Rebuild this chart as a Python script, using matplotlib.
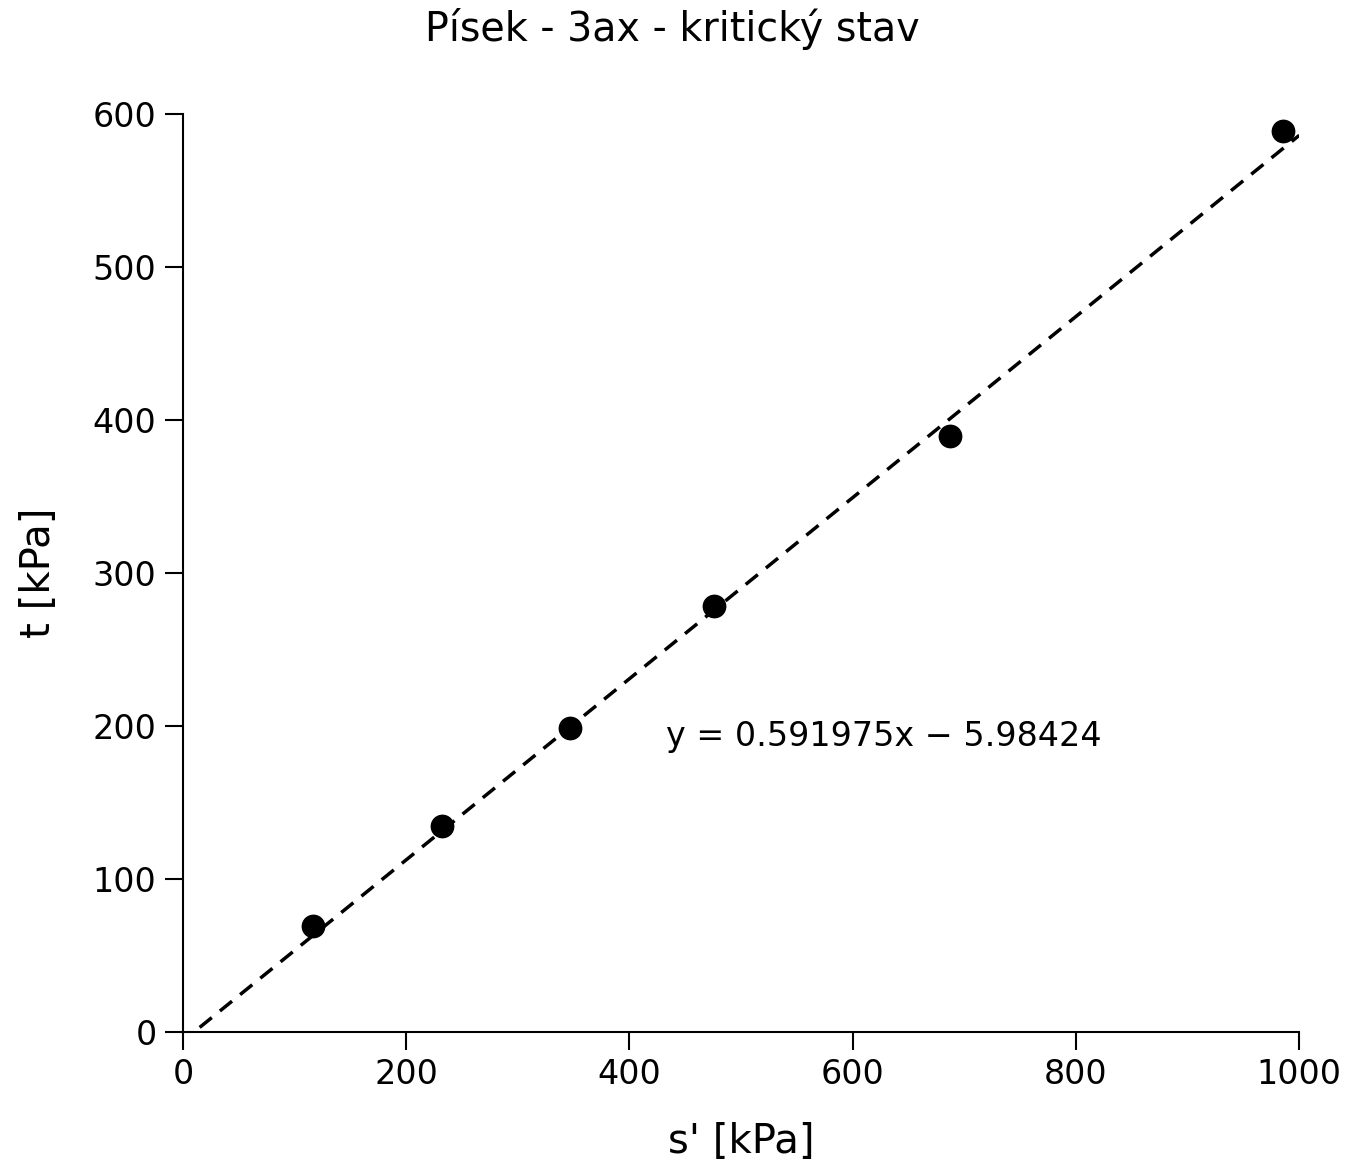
import matplotlib.pyplot as plt
import numpy as np

# measured points (s', t) in kPa
s_vals = [116.5, 232, 347, 476, 687, 985]
t_vals = [69.3, 134.6, 198.7, 278.4, 389.5, 588.9]

slope = 0.591975
intercept = -5.98424
fit_x = [15, 1000]

fig = plt.figure(figsize=(13.45, 11.62), dpi=100)
ax = fig.add_axes([0.136, 0.112, 0.83, 0.79])

fx = np.array(fit_x)
ax.plot(fx, slope * fx + intercept, 'k--', lw=2.5, dashes=(4.5, 3))
ax.scatter(s_vals, t_vals, s=260, color='black', zorder=3)

ax.text(433, 193, 'y = 0.591975x \u2212 5.98424', fontsize=24, va='center')

ax.set_xlim(0, 1000)
ax.set_ylim(0, 600)
ax.set_xticks([0, 200, 400, 600, 800, 1000])
ax.set_yticks([0, 100, 200, 300, 400, 500, 600])
for side in ['top', 'right']:
    ax.spines[side].set_visible(False)
for side in ['left', 'bottom']:
    ax.spines[side].set_linewidth(1.5)
ax.tick_params(labelsize=24, length=13, width=1.5, pad=6)

ax.set_xlabel("s' [kPa]", fontsize=29, labelpad=22)
ax.set_ylabel('t [kPa]', fontsize=29, labelpad=24)
fig.suptitle('Písek - 3ax - kritický stav', fontsize=28.5, y=0.993)

fig.savefig('out.png', dpi=100)
